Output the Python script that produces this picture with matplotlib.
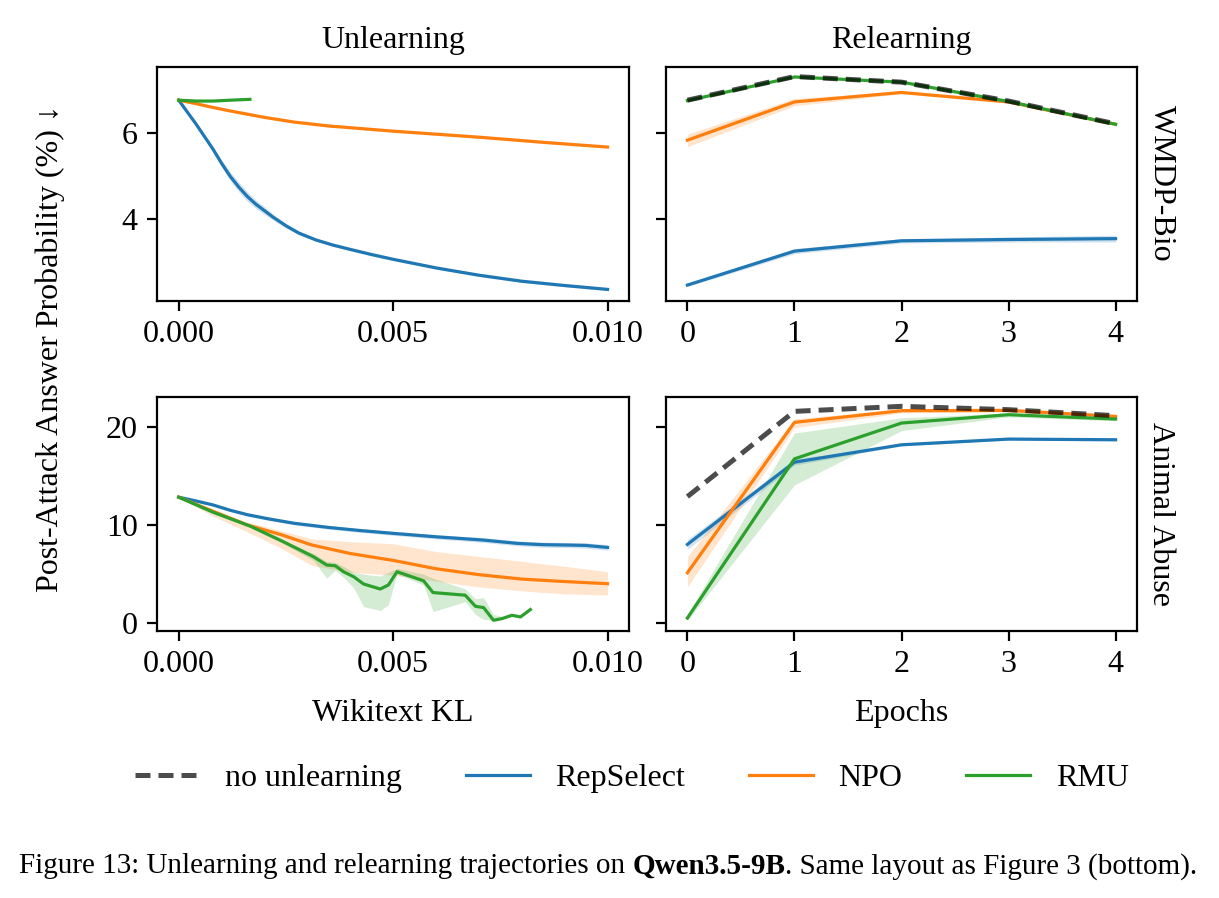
import matplotlib
matplotlib.use("Agg")
import matplotlib.pyplot as plt
import numpy as np
from matplotlib.offsetbox import TextArea, HPacker, AnchoredOffsetbox
from matplotlib.lines import Line2D

plt.rcParams['font.family'] = ['Liberation Serif', 'DejaVu Serif']
plt.rcParams['font.size'] = 11.5

# ---------------- data ----------------
methods = ["RepSelect", "NPO", "RMU"]
colors = {"RepSelect": "#1f77b4", "NPO": "#ff7f0e", "RMU": "#2ca02c"}
epochs = [0, 1, 2, 3, 4]

# WMDP-Bio, unlearning (x = Wikitext KL)
bio_rep_kl = [0.0, 0.0004, 0.0008, 0.0010, 0.0012, 0.0014, 0.0016, 0.0018, 0.0020, 0.0022, 0.0025, 0.0028,
              0.0032, 0.0036, 0.0040, 0.0045, 0.0050, 0.0060, 0.0070, 0.0080, 0.0090, 0.0100]
bio_rep_y = [6.77, 6.22, 5.63, 5.30, 5.00, 4.75, 4.53, 4.35, 4.20, 4.05, 3.85, 3.68,
             3.52, 3.40, 3.30, 3.18, 3.07, 2.87, 2.70, 2.56, 2.46, 2.37]
bio_rep_err = [0.0, 0.03, 0.05, 0.08, 0.10, 0.11, 0.11, 0.10, 0.09, 0.07, 0.05, 0.04,
               0.03, 0.03, 0.03, 0.03, 0.03, 0.03, 0.03, 0.03, 0.03, 0.03]
bio_npo_kl = [0.0, 0.0004, 0.0008, 0.0012, 0.0020, 0.0027, 0.0035, 0.0050, 0.0060, 0.0070, 0.0085, 0.0100]
bio_npo_y = [6.77, 6.69, 6.60, 6.52, 6.37, 6.26, 6.17, 6.05, 5.98, 5.91, 5.79, 5.68]
bio_npo_err = [0.0, 0.01, 0.01, 0.02, 0.02, 0.02, 0.02, 0.02, 0.02, 0.02, 0.02, 0.02]
bio_rmu_kl = [0.0, 0.0004, 0.0008, 0.0012, 0.00166]
bio_rmu_y = [6.77, 6.75, 6.75, 6.77, 6.79]

# WMDP-Bio, relearning
bio_none_ep = [6.77, 7.32, 7.19, 6.75, 6.22]
bio_rep_ep = [2.47, 3.26, 3.50, 3.53, 3.55]
bio_rep_ep_err = [0.03, 0.06, 0.05, 0.06, 0.08]
bio_npo_ep = [5.84, 6.73, 6.95, 6.73, 6.21]
bio_npo_ep_lo = [5.69, 6.64, 6.92, 6.70, 6.18]
bio_npo_ep_hi = [5.98, 6.81, 6.98, 6.76, 6.24]
bio_rmu_ep = [6.76, 7.31, 7.19, 6.74, 6.21]

# Animal Abuse, unlearning
aa_rep_kl = [0.0, 0.0004, 0.0008, 0.0012, 0.0016, 0.0021, 0.0027, 0.0035, 0.0042, 0.0050, 0.0060,
             0.0071, 0.0079, 0.0085, 0.0091, 0.0095, 0.0100]
aa_rep_y = [12.83, 12.45, 12.04, 11.50, 11.05, 10.62, 10.17, 9.75, 9.45, 9.15, 8.80,
            8.47, 8.13, 8.00, 7.96, 7.92, 7.72]
aa_rep_err = [0.0, 0.08, 0.10, 0.12, 0.14, 0.15, 0.16, 0.18, 0.19, 0.20, 0.22,
              0.24, 0.25, 0.26, 0.27, 0.28, 0.28]
aa_npo_kl = [0.0, 0.0008, 0.0016, 0.0024, 0.0031, 0.0040, 0.0050, 0.0060, 0.0070, 0.0080, 0.0090, 0.0100]
aa_npo_y = [12.83, 11.40, 10.00, 9.00, 7.97, 7.10, 6.40, 5.55, 4.95, 4.50, 4.25, 4.03]
aa_npo_lo = [12.83, 10.90, 9.30, 7.60, 5.90, 5.20, 4.90, 4.30, 3.70, 3.30, 3.00, 2.88]
aa_npo_hi = [12.83, 11.50, 10.30, 9.40, 8.60, 8.30, 8.10, 7.30, 6.80, 6.30, 5.80, 5.25]
aa_rmu_kl = [0.0, 0.0008, 0.00166, 0.00244, 0.00314, 0.00345, 0.00365, 0.00384, 0.00408, 0.00431, 0.0047, 0.00489, 0.00509,
             0.00571, 0.00593, 0.00668, 0.00692, 0.00711, 0.00734, 0.00754, 0.00777, 0.00797, 0.0082]
aa_rmu_y = [12.83, 11.30, 9.90, 8.30, 6.78, 5.93, 5.86, 5.25, 4.74, 4.00, 3.49, 3.90, 5.25,
            4.32, 3.13, 2.86, 1.73, 1.60, 0.31, 0.48, 0.82, 0.65, 1.40]
aa_rmu_lo = [12.83, 11.20, 9.75, 8.10, 6.40, 4.60, 5.40, 4.70, 3.60, 1.70, 1.30, 1.90, 5.00,
             3.90, 1.20, 2.20, 0.90, 0.40, 0.31, 0.45, 0.75, 0.60, 1.35]
aa_rmu_hi = [12.83, 11.50, 10.05, 8.45, 7.10, 6.30, 6.20, 5.80, 5.20, 5.00, 4.80, 5.20, 5.60,
             5.00, 4.60, 3.50, 2.50, 2.60, 0.90, 0.70, 0.95, 0.75, 1.45]

# Animal Abuse, relearning
aa_none_ep = [12.89, 21.56, 22.07, 21.73, 21.12]
aa_rep_ep = [8.03, 16.39, 18.16, 18.74, 18.67]
aa_rep_ep_err = [0.5, 0.3, 0.1, 0.1, 0.1]
aa_npo_ep = [5.14, 20.44, 21.63, 21.66, 21.05]
aa_npo_ep_lo = [3.70, 19.90, 21.40, 21.50, 20.90]
aa_npo_ep_hi = [6.77, 20.80, 21.80, 21.80, 21.20]
aa_rmu_ep = [0.54, 16.73, 20.37, 21.22, 20.78]
aa_rmu_ep_lo = [0.30, 14.08, 19.60, 21.00, 20.60]
aa_rmu_ep_hi = [0.90, 19.35, 20.90, 21.40, 20.90]

# ---------------- figure ----------------
W, H, DPI = 1219, 898, 200
fig = plt.figure(figsize=(W / DPI, H / DPI), dpi=DPI)

def px_axes(x0, y0, x1, y1):
    return fig.add_axes([x0 / W, 1 - y1 / H, (x1 - x0) / W, (y1 - y0) / H])

ax_tl = px_axes(157.3, 66.7, 629.0, 300.7)
ax_tr = px_axes(666.0, 66.7, 1137.0, 300.7)
ax_bl = px_axes(157.3, 397.3, 629.0, 630.7)
ax_br = px_axes(666.0, 397.3, 1137.0, 630.7)

LW = 1.15
ALPHA = 0.2
none_kw = dict(color='k', alpha=0.7, lw=1.8, dashes=(3.0, 1.6), zorder=4)

def band(ax, x, y, lo, hi, c):
    ax.fill_between(x, lo, hi, color=c, alpha=ALPHA, lw=0)
    ax.plot(x, y, color=c, lw=LW)

def sym(y, e):
    y = np.asarray(y); e = np.asarray(e)
    return y - e, y + e

# top-left
lo, hi = sym(bio_rep_y, bio_rep_err)
band(ax_tl, bio_rep_kl, bio_rep_y, lo, hi, colors["RepSelect"])
lo, hi = sym(bio_npo_y, bio_npo_err)
band(ax_tl, bio_npo_kl, bio_npo_y, lo, hi, colors["NPO"])
ax_tl.plot(bio_rmu_kl, bio_rmu_y, color=colors["RMU"], lw=LW)

# top-right
ax_tr.plot(epochs, bio_none_ep, **none_kw)
lo, hi = sym(bio_rep_ep, bio_rep_ep_err)
band(ax_tr, epochs, bio_rep_ep, lo, hi, colors["RepSelect"])
band(ax_tr, epochs, bio_npo_ep, bio_npo_ep_lo, bio_npo_ep_hi, colors["NPO"])
ax_tr.plot(epochs, bio_rmu_ep, color=colors["RMU"], lw=LW)

# bottom-left
lo, hi = sym(aa_rep_y, aa_rep_err)
band(ax_bl, aa_rep_kl, aa_rep_y, lo, hi, colors["RepSelect"])
band(ax_bl, aa_npo_kl, aa_npo_y, aa_npo_lo, aa_npo_hi, colors["NPO"])
band(ax_bl, aa_rmu_kl, aa_rmu_y, aa_rmu_lo, aa_rmu_hi, colors["RMU"])

# bottom-right
ax_br.plot(epochs, aa_none_ep, **none_kw)
lo, hi = sym(aa_rep_ep, aa_rep_ep_err)
band(ax_br, epochs, aa_rep_ep, lo, hi, colors["RepSelect"])
band(ax_br, epochs, aa_npo_ep, aa_npo_ep_lo, aa_npo_ep_hi, colors["NPO"])
band(ax_br, epochs, aa_rmu_ep, aa_rmu_ep_lo, aa_rmu_ep_hi, colors["RMU"])

# axes styling
for ax in (ax_tl, ax_tr):
    ax.set_ylim(2.107, 7.549)
    ax.set_yticks([4, 6])
for ax in (ax_bl, ax_br):
    ax.set_ylim(-0.75, 22.99)
    ax.set_yticks([0, 10, 20])
for ax in (ax_tl, ax_bl):
    ax.set_xlim(-0.0005, 0.0105)
    ax.set_xticks([0.0, 0.005, 0.010])
    ax.set_xticklabels(["0.000", "0.005", "0.010"])
for ax in (ax_tr, ax_br):
    ax.set_xlim(-0.2, 4.2)
    ax.set_xticks(epochs)
    ax.tick_params(labelleft=False)

ax_tl.set_title("Unlearning", fontsize=11.5, pad=6.8)
ax_tr.set_title("Relearning", fontsize=11.5, pad=6.8)
ax_bl.set_xlabel("Wikitext KL", labelpad=7)
ax_br.set_xlabel("Epochs", labelpad=7)

for ax, lab in ((ax_tr, "WMDP-Bio"), (ax_br, "Animal Abuse")):
    ax.annotate(lab, xy=(1.02, 0.5), xycoords='axes fraction', rotation=270,
                ha='left', va='center', fontsize=11.5)

fig.text(50 / W, 1 - 348.7 / H, "Post-Attack Answer Probability (%) \u2193",
         rotation=90, ha='center', va='center', fontsize=11.5)

# legend
handles = [Line2D([], [], **{k: v for k, v in none_kw.items() if k != 'zorder'})]
handles += [Line2D([], [], color=colors[m], lw=LW) for m in methods]
labels = ["no unlearning"] + methods
fig.legend(handles, labels, loc='center', bbox_to_anchor=(632 / W, 1 - 778 / H),
           ncol=4, frameon=False, handlelength=2.0, handletextpad=0.8, columnspacing=2.0)

# caption with bold model name
cap_fs = 10.5
parts = [TextArea("Figure 13: Unlearning and relearning trajectories on ",
                  textprops=dict(fontsize=cap_fs)),
         TextArea("Qwen3.5-9B", textprops=dict(fontsize=cap_fs, fontweight='bold')),
         TextArea(". Same layout as Figure 3 (bottom).", textprops=dict(fontsize=cap_fs))]
box = HPacker(children=parts, align="baseline", pad=0, sep=0)
anch = AnchoredOffsetbox(loc='center', child=box, pad=0, frameon=False,
                         bbox_to_anchor=(608 / W, 1 - 866 / H),
                         bbox_transform=fig.transFigure, borderpad=0)
fig.add_artist(anch)

fig.savefig("out.png", dpi=DPI)
